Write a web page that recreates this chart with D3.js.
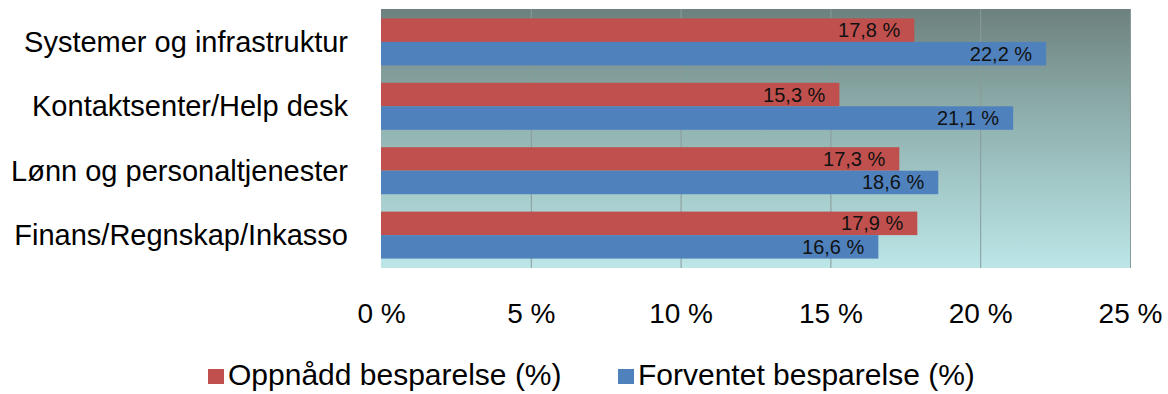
<!DOCTYPE html>
<html><head><meta charset="utf-8">
<script src="https://cdn.jsdelivr.net/npm/d3@7/dist/d3.min.js"></script>
<style>html,body{margin:0;padding:0;background:#fff;}svg{display:block;font-family:Arial,"Liberation Sans",sans-serif;}</style>
</head><body><svg id="c" width="1168" height="394"></svg>
<script>
const categories = ["Systemer og infrastruktur","Kontaktsenter/Help desk","Lønn og personaltjenester","Finans/Regnskap/Inkasso"];
const seriesNames = ["Oppnådd besparelse (%)","Forventet besparelse (%)"];
const achieved = [17.8, 15.3, 17.3, 17.9];
const expected = [22.2, 21.1, 18.6, 16.6];
const tickValues = [0, 5, 10, 15, 20, 25];
const colors = ["#c0504d", "#4f81bd"];

const svg = d3.select("#c");
const L = 381, R = 1130, T = 9, B = 268;
const x = d3.scaleLinear().domain([0, 25]).range([L, R]);
const y = d3.scaleBand().domain(categories).range([T, B]).paddingInner(0.27).paddingOuter(0.146);
const ys = d3.scaleBand().domain([0, 1]).range([0, y.bandwidth()]);
const fmt = v => d3.format(".1f")(v).replace(".", ",") + " %";

const defs = svg.append("defs");
const g = defs.append("linearGradient").attr("id", "bg").attr("x1", 0).attr("y1", 0).attr("x2", 0).attr("y2", 1);
g.append("stop").attr("offset", "0").attr("stop-color", "#6d817e");
g.append("stop").attr("offset", "0.45").attr("stop-color", "#91b3b1");
g.append("stop").attr("offset", "1").attr("stop-color", "#bce6e8");

svg.append("rect").attr("x", L).attr("y", T).attr("width", R - L).attr("height", B - T).attr("fill", "url(#bg)");

// gridlines
svg.append("g").selectAll("line").data(tickValues.slice(1)).join("line")
  .attr("x1", d => x(d) + 0.5).attr("x2", d => x(d) + 0.5).attr("y1", T).attr("y2", B)
  .attr("stroke", "#8a9a9a").attr("stroke-width", 1);

const rows = svg.append("g").selectAll("g").data(categories).join("g")
  .attr("transform", d => `translate(0,${y(d)})`);
const seriesData = [achieved, expected];
rows.each(function(c, i) {
  const row = d3.select(this);
  seriesData.forEach((arr, s) => {
    row.append("rect").attr("x", x(0)).attr("y", ys(s)).attr("width", x(arr[i]) - x(0)).attr("height", ys.bandwidth())
      .attr("fill", colors[s]);
    row.append("text").attr("x", x(arr[i]) - 14).attr("y", ys(s) + ys.bandwidth() / 2 + 7)
      .attr("text-anchor", "end").attr("font-size", 20).attr("fill", "#111").text(fmt(arr[i]));
  });
});

// category labels
svg.append("g").selectAll("text").data(categories).join("text")
  .attr("x", 348).attr("y", d => y(d) + y.bandwidth() / 2 + 10)
  .attr("text-anchor", "end").attr("font-size", 29).attr("fill", "#000").text(d => d);

// x axis tick labels
const ax = svg.append("g").attr("transform", `translate(0,${323})`)
  .call(d3.axisBottom(x).tickValues(tickValues).tickSize(0).tickPadding(0).tickFormat(d => d + " %"));
ax.select(".domain").remove();
ax.selectAll("text").attr("font-size", 28).attr("fill", "#000").attr("dy", 0).attr("y", 0)
  .attr("font-family", "Arial, 'Liberation Sans', sans-serif");

// legend
const legX = [208, 618];
const leg = svg.append("g").selectAll("g").data(seriesNames).join("g")
  .attr("transform", (d, i) => `translate(${legX[i]},0)`);
leg.append("rect").attr("x", 0).attr("y", 369).attr("width", 16).attr("height", 15).attr("fill", (d, i) => colors[i]);
leg.append("text").attr("x", 20).attr("y", 385).attr("font-size", 30).attr("fill", "#000").text(d => d);
</script></body></html>
